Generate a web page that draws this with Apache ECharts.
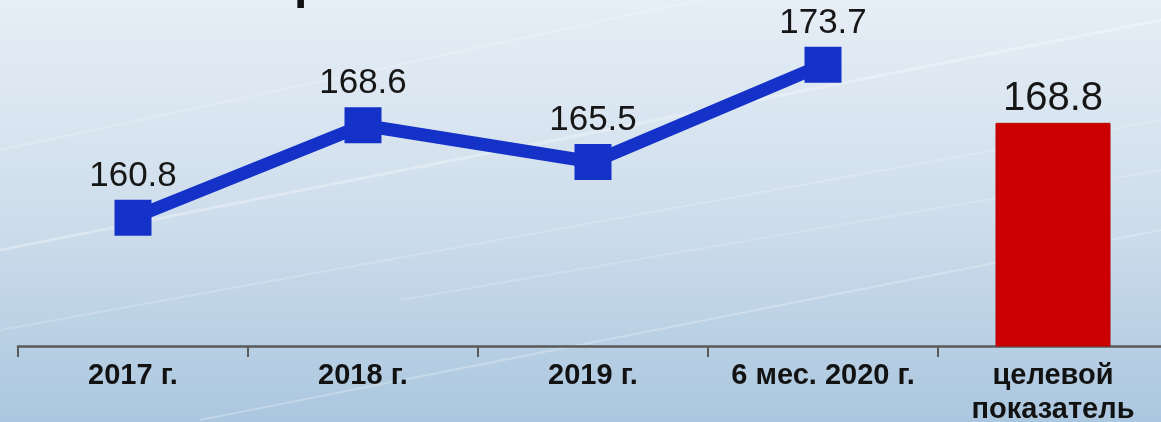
<!DOCTYPE html>
<html>
<head>
<meta charset="utf-8">
<script src="https://cdn.jsdelivr.net/npm/echarts@6/dist/echarts.min.js"></script>
<style>
html,body{margin:0;padding:0;}
#chart{width:1161px;height:422px;}
</style>
</head>
<body>
<div id="chart"></div>
<script>
var categories = ['2017 г.', '2018 г.', '2019 г.', '6 мес. 2020 г.', 'целевой\nпоказатель'];
var lineValues = [160.8, 168.6, 165.5, 173.7, '-'];
var targetValues = ['-', '-', '-', '-', 168.8];
var titleFragment = 'р';

var chart = echarts.init(document.getElementById('chart'), null, {renderer: 'canvas'});

var streaks = [];
var streakDefs = [
  [0, 250, 1161, 20, 0.3, 3],
  [0, 330, 1161, 120, 0.2, 2],
  [200, 420, 1161, 230, 0.25, 2],
  [0, 150, 700, 0, 0.22, 2],
  [400, 300, 1161, 170, 0.18, 2]
];
streakDefs.forEach(function (s) {
  streaks.push({
    type: 'line', silent: true, z: -10,
    shape: {x1: s[0], y1: s[1], x2: s[2], y2: s[3]},
    style: {stroke: 'rgba(255,255,255,' + s[4] + ')', lineWidth: s[5]}
  });
});

var option = {
  animation: false,
  backgroundColor: {
    type: 'linear', x: 0, y: 0, x2: 0, y2: 1,
    colorStops: [
      {offset: 0, color: '#e6eef6'},
      {offset: 0.5, color: '#cfdeec'},
      {offset: 1, color: '#abc7df'}
    ]
  },
  graphic: streaks.concat([{
    type: 'text', left: 294, top: -39, z: 10,
    style: {text: titleFragment, font: 'bold 48px "Liberation Sans", Arial, sans-serif', fill: '#111'}
  }]),
  grid: {left: 18, top: 0, width: 1150, height: 346, containLabel: false, outerBoundsMode: 'none'},
  xAxis: {
    type: 'category',
    data: categories,
    boundaryGap: true,
    axisLine: {show: true, lineStyle: {color: '#5a5a5a', width: 2.5}},
    axisTick: {show: true, length: 11, lineStyle: {color: '#5a5a5a', width: 2}},
    axisLabel: {
      margin: 13,
      color: '#121212',
      fontFamily: '"Liberation Sans", Arial, sans-serif',
      fontWeight: 'bold',
      fontSize: 29,
      lineHeight: 34,
      interval: 0
    }
  },
  yAxis: {
    type: 'value', min: 150, max: 179.15,
    show: false,
    splitLine: {show: false}
  },
  series: [
    {
      type: 'line',
      data: lineValues,
      symbol: 'rect',
      symbolSize: [37, 36],
      lineStyle: {color: '#1432c8', width: 13},
      itemStyle: {color: '#1432c8'},
      label: {
        show: true, position: 'top', distance: 6,
        color: '#161616', fontSize: 35,
        fontFamily: '"Liberation Sans", Arial, sans-serif'
      },
      z: 3
    },
    {
      type: 'bar',
      data: targetValues,
      barWidth: 115,
      itemStyle: {color: '#cc0000', borderColor: '#b80000', borderWidth: 1},
      label: {
        show: true, position: 'top', distance: 4,
        color: '#161616', fontSize: 40,
        fontFamily: '"Liberation Sans", Arial, sans-serif'
      },
      z: 2
    }
  ]
};
chart.setOption(option);
</script>
</body>
</html>
